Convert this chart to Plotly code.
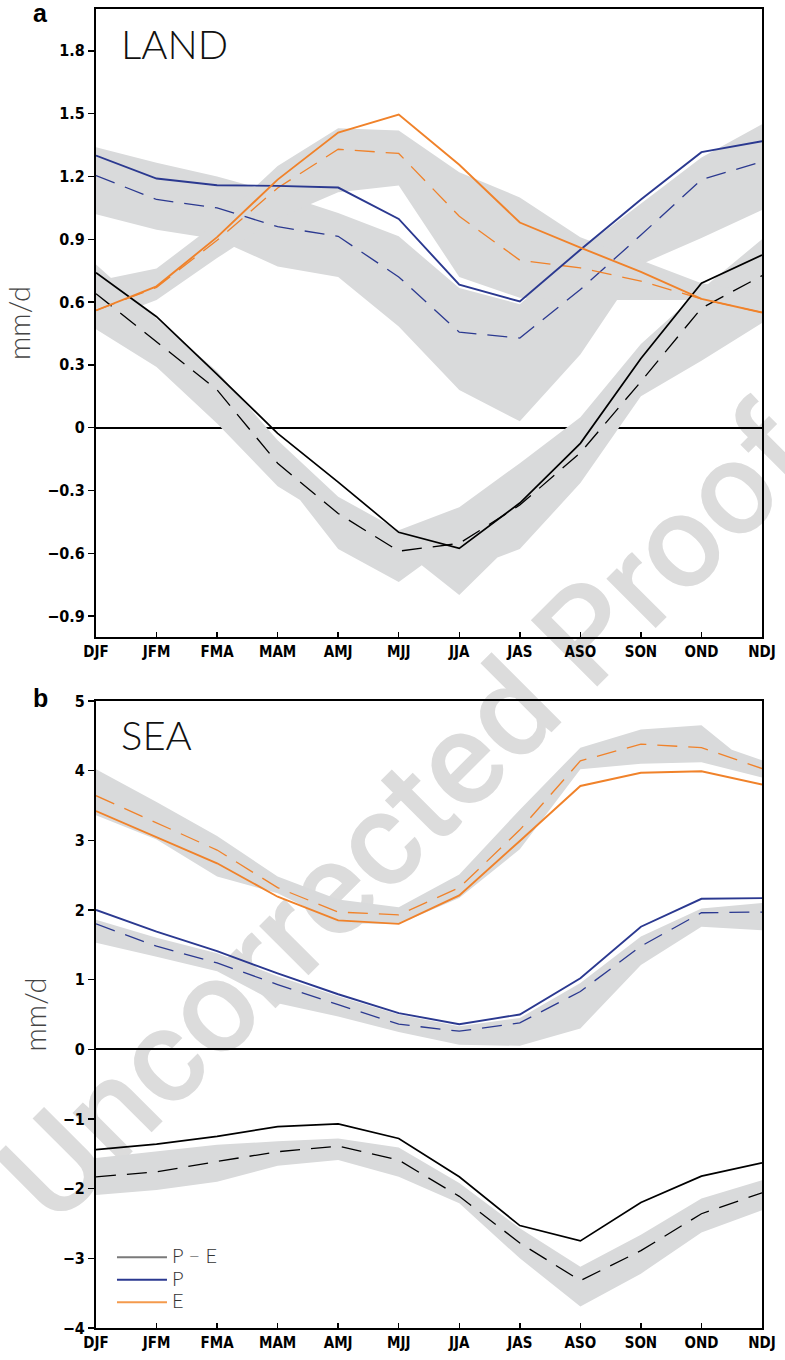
import plotly.graph_objects as go

# ---------------- data ----------------
MONTHS = ["DJF", "JFM", "FMA", "MAM", "AMJ", "MJJ", "JJA", "JAS", "ASO", "SON", "OND", "NDJ"]
POS = list(range(len(MONTHS)))

# Panel a: LAND (mm/d)
LAND_PE_OBS = [0.74, 0.53, 0.255, -0.027, -0.26, -0.50, -0.577, -0.36, -0.075, 0.33, 0.69, 0.825]
LAND_PE_MOD = [0.64, 0.41, 0.18, -0.17, -0.41, -0.59, -0.553, -0.37, -0.12, 0.22, 0.571, 0.726]
LAND_P_OBS = [1.30, 1.19, 1.158, 1.155, 1.147, 0.997, 0.683, 0.603, 0.85, 1.09, 1.316, 1.368]
LAND_P_MOD = [1.204, 1.09, 1.05, 0.96, 0.914, 0.72, 0.456, 0.428, 0.66, 0.92, 1.185, 1.27]
LAND_E_OBS = [0.56, 0.675, 0.91, 1.185, 1.41, 1.496, 1.256, 0.98, 0.86, 0.744, 0.615, 0.55]
LAND_E_MOD = [0.56, 0.67, 0.895, 1.145, 1.33, 1.31, 1.01, 0.80, 0.763, 0.70, 0.615, 0.55]

# model spread bands (upper / lower edges)
LAND_PE_UP_X = POS
LAND_PE_UP = [0.78, 0.52, 0.27, -0.06, -0.33, -0.49, -0.38, -0.17, 0.05, 0.40, 0.66, 0.90]
LAND_PE_LO_X = [0, 1, 2, 3, 3.37, 4, 5, 5.38, 6, 6.63, 7, 8, 9, 10, 11]
LAND_PE_LO = [0.47, 0.29, 0.02, -0.28, -0.346, -0.58, -0.737, -0.657, -0.80, -0.62, -0.58, -0.265, 0.15, 0.32, 0.50]

LAND_P_UP_X = POS
LAND_P_UP = [1.34, 1.265, 1.20, 1.12, 1.026, 0.914, 0.667, 0.59, 0.85, 1.07, 1.29, 1.45]
LAND_P_LO_X = POS
LAND_P_LO = [1.02, 0.946, 0.90, 0.77, 0.72, 0.483, 0.18, 0.03, 0.35, 0.78, 0.906, 1.04]

LAND_E_UP_X = POS
LAND_E_UP = [0.70, 0.76, 0.98, 1.25, 1.43, 1.42, 1.22, 1.10, 0.91, 0.80, 0.69, 0.64]
LAND_E_LO_X = POS
LAND_E_LO = [0.50, 0.61, 0.81, 1.00, 1.125, 1.157, 0.72, 0.62, 0.61, 0.61, 0.61, 0.50]

# Panel b: SEA (mm/d)
SEA_PE_OBS = [-1.44, -1.36, -1.25, -1.11, -1.07, -1.28, -1.83, -2.53, -2.75, -2.20, -1.82, -1.63]
SEA_PE_MOD = [-1.83, -1.76, -1.61, -1.47, -1.39, -1.59, -2.11, -2.78, -3.32, -2.89, -2.36, -2.06]
SEA_P_OBS = [2.00, 1.69, 1.41, 1.09, 0.79, 0.52, 0.36, 0.50, 1.02, 1.76, 2.16, 2.17]
SEA_P_MOD = [1.80, 1.48, 1.24, 0.93, 0.64, 0.36, 0.26, 0.38, 0.83, 1.48, 1.96, 1.97]
SEA_E_OBS = [3.42, 3.04, 2.67, 2.19, 1.85, 1.80, 2.21, 2.99, 3.78, 3.97, 3.99, 3.80]
SEA_E_MOD = [3.64, 3.25, 2.86, 2.32, 1.97, 1.93, 2.32, 3.15, 4.14, 4.38, 4.33, 4.03]

SEA_PE_UP_X = POS
SEA_PE_UP = [-1.56, -1.47, -1.37, -1.32, -1.28, -1.41, -1.92, -2.57, -3.12, -2.66, -2.14, -1.88]
SEA_PE_LO_X = POS
SEA_PE_LO = [-2.09, -2.02, -1.90, -1.67, -1.59, -1.83, -2.21, -3.00, -3.69, -3.22, -2.63, -2.31]

SEA_P_UP_X = POS
SEA_P_UP = [1.86, 1.60, 1.38, 1.05, 0.76, 0.50, 0.33, 0.45, 0.95, 1.62, 2.02, 2.10]
SEA_P_LO_X = POS
SEA_P_LO = [1.53, 1.33, 1.12, 0.66, 0.47, 0.25, 0.065, 0.05, 0.30, 1.21, 1.76, 1.71]

SEA_E_UP_X = [0, 1, 2, 3, 4, 5, 6, 7, 8, 9, 10, 10.5, 11]
SEA_E_UP = [4.02, 3.55, 3.06, 2.48, 2.15, 2.04, 2.51, 3.44, 4.33, 4.59, 4.65, 4.30, 4.15]
SEA_E_LO_X = POS
SEA_E_LO = [3.36, 3.01, 2.48, 2.24, 1.81, 1.80, 2.17, 2.87, 4.02, 4.10, 4.12, 3.90]

LAND_YTICKS = [-0.9, -0.6, -0.3, 0, 0.3, 0.6, 0.9, 1.2, 1.5, 1.8]
SEA_YTICKS = [-4, -3, -2, -1, 0, 1, 2, 3, 4, 5]

LEGEND_NAMES = ["P \u2212 E", "P", "E"]

# ---------------- styles ----------------
C_PE = "#000000"
C_P = "#2B3990"
C_E = "#F0822A"
LEGEND_COLORS = ["#7A7A7A", "#2B3990", "#F49A4C"]
C_BAND = "#D9DADB"
DASH = "20px,11px"
NARROW = "Liberation Sans Narrow, DejaVu Sans Condensed, Arial Narrow, sans-serif"
XTICK_FONT = dict(family=NARROW, size=15, color="black", weight="bold")
YTICK_FONT = dict(family=NARROW, size=16, color="black", weight="bold")
LIGHT_FAMILY = "Lato, Roboto, sans-serif"
LIGHT_W = 300


def fmt(v):
    if abs(v) < 1e-9:
        return "0"
    s = ("%g" % abs(v))
    return ("\u2212" + s) if v < 0 else s


fig = go.Figure()


def add_band(xu, yu, xl, yl, xa, ya):
    fig.add_trace(go.Scatter(
        x=list(xu) + list(xl)[::-1], y=list(yu) + list(yl)[::-1],
        mode="lines", fill="toself", fillcolor=C_BAND, line=dict(width=0),
        hoverinfo="skip", showlegend=False, xaxis=xa, yaxis=ya))


def add_line(y, color, dashed, xa, ya, width=None):
    fig.add_trace(go.Scatter(
        x=POS, y=y, mode="lines", showlegend=False,
        line=dict(color=color, width=width if width else (1.3 if dashed else 1.9),
                  dash=DASH if dashed else "solid"),
        xaxis=xa, yaxis=ya))


# panel a
add_band(LAND_PE_UP_X, LAND_PE_UP, LAND_PE_LO_X, LAND_PE_LO, "x", "y")
add_band(LAND_P_UP_X, LAND_P_UP, LAND_P_LO_X, LAND_P_LO, "x", "y")
add_band(LAND_E_UP_X, LAND_E_UP, LAND_E_LO_X, LAND_E_LO, "x", "y")
add_line(LAND_PE_MOD, C_PE, True, "x", "y")
add_line(LAND_P_MOD, C_P, True, "x", "y")
add_line(LAND_E_MOD, C_E, True, "x", "y")
add_line(LAND_PE_OBS, C_PE, False, "x", "y", width=1.7)
add_line(LAND_P_OBS, C_P, False, "x", "y")
add_line(LAND_E_OBS, C_E, False, "x", "y")

# panel b
add_band(SEA_PE_UP_X, SEA_PE_UP, SEA_PE_LO_X, SEA_PE_LO, "x2", "y2")
add_band(SEA_P_UP_X, SEA_P_UP, SEA_P_LO_X, SEA_P_LO, "x2", "y2")
add_band(SEA_E_UP_X, SEA_E_UP, SEA_E_LO_X, SEA_E_LO, "x2", "y2")
add_line(SEA_PE_MOD, C_PE, True, "x2", "y2")
add_line(SEA_P_MOD, C_P, True, "x2", "y2")
add_line(SEA_E_MOD, C_E, True, "x2", "y2")
add_line(SEA_PE_OBS, C_PE, False, "x2", "y2", width=1.7)
add_line(SEA_P_OBS, C_P, False, "x2", "y2")
add_line(SEA_E_OBS, C_E, False, "x2", "y2")

# legend-only entries
for name, col in zip(LEGEND_NAMES, LEGEND_COLORS):
    fig.add_trace(go.Scatter(
        x=[None], y=[None], mode="lines", showlegend=True,
        name="<span style='font-size:20px'>%s</span>" % name,
        line=dict(color=col, width=2), xaxis="x2", yaxis="y2"))

xcommon = dict(range=[0, 11], tickvals=POS, ticktext=MONTHS, ticks="inside", ticklen=5,
               tickwidth=1.5, tickcolor="black", showline=True, linewidth=2, linecolor="black",
               mirror=True, showgrid=False, zeroline=False, tickfont=XTICK_FONT, fixedrange=True,
               automargin=False)
ycommon = dict(ticks="outside", ticklen=6, tickwidth=1.5, tickcolor="black", showline=True,
               linewidth=2, linecolor="black", mirror=True, showgrid=False, zeroline=True,
               zerolinecolor="black", zerolinewidth=2, tickfont=YTICK_FONT, automargin=False,
               title=dict(text="mm/d", font=dict(family=LIGHT_FAMILY, size=29, color="#444",
                                                 weight=LIGHT_W),
                          standoff=8))

fig.update_layout(
    width=785, height=1360, autosize=False,
    margin=dict(l=96, r=23, t=9, b=32, pad=0),
    paper_bgcolor="white", plot_bgcolor="white",
    xaxis=dict(domain=[0, 1], anchor="y", **xcommon),
    yaxis=dict(domain=[0.5239, 1.0], anchor="x", range=[-1.0, 2.0], tickvals=LAND_YTICKS,
               ticktext=[fmt(v) for v in LAND_YTICKS], **ycommon),
    xaxis2=dict(domain=[0, 1], anchor="y2", **xcommon),
    yaxis2=dict(domain=[0.0, 0.4754], anchor="x2", range=[-4, 5], tickvals=SEA_YTICKS,
                ticktext=[fmt(v) for v in SEA_YTICKS], **ycommon),
    showlegend=True,
    legend=dict(x=0.024, y=0.066, xanchor="left", yanchor="top", bgcolor="rgba(0,0,0,0)",
                font=dict(family=LIGHT_FAMILY, size=15, color="#333", weight=LIGHT_W),
                itemwidth=50, tracegroupgap=0, traceorder="normal"),
    annotations=[
        dict(text="<b>a</b>", xref="paper", yref="paper", x=-0.084, y=0.997, xanchor="center",
             yanchor="middle", showarrow=False,
             font=dict(family="Liberation Sans, Arial, sans-serif", size=25, color="black")),
        dict(text="<b>b</b>", xref="paper", yref="paper", x=-0.084, y=0.4775, xanchor="center",
             yanchor="middle", showarrow=False,
             font=dict(family="Liberation Sans, Arial, sans-serif", size=25, color="black")),
        dict(text="LAND", xref="x domain", yref="y domain", x=0.034, y=0.945, xanchor="left",
             yanchor="middle", showarrow=False,
             font=dict(family=LIGHT_FAMILY, size=40, color="#111", weight=LIGHT_W)),
        dict(text="SEA", xref="x2 domain", yref="y2 domain", x=0.034, y=0.945, xanchor="left",
             yanchor="middle", showarrow=False,
             font=dict(family=LIGHT_FAMILY, size=40, color="#111", weight=LIGHT_W)),
    ],
    shapes=[
        dict(type="rect", xref="paper", yref="paper", x0=0.445, x1=0.465, y0=0.39, y1=0.40,
             line=dict(width=0), fillcolor="rgba(0,0,0,0)", layer="below",
             label=dict(text="Uncorrected Proof", textangle=-45, textposition="middle center",
                        font=dict(family="Roboto, Liberation Sans, sans-serif", size=132,
                                  color="#DCDCDC", weight=500))),
    ],
)

fig.write_html(
    "out.html",
    config={"displayModeBar": False, "staticPlot": True},
    post_script=("document.body.style.margin='0px';"
                 "document.documentElement.style.overflow='hidden';"
                 "var gd=document.getElementById('{plot_id}');"
                 "gd.style.position='absolute';gd.style.left='0px';gd.style.top='0px';"))
